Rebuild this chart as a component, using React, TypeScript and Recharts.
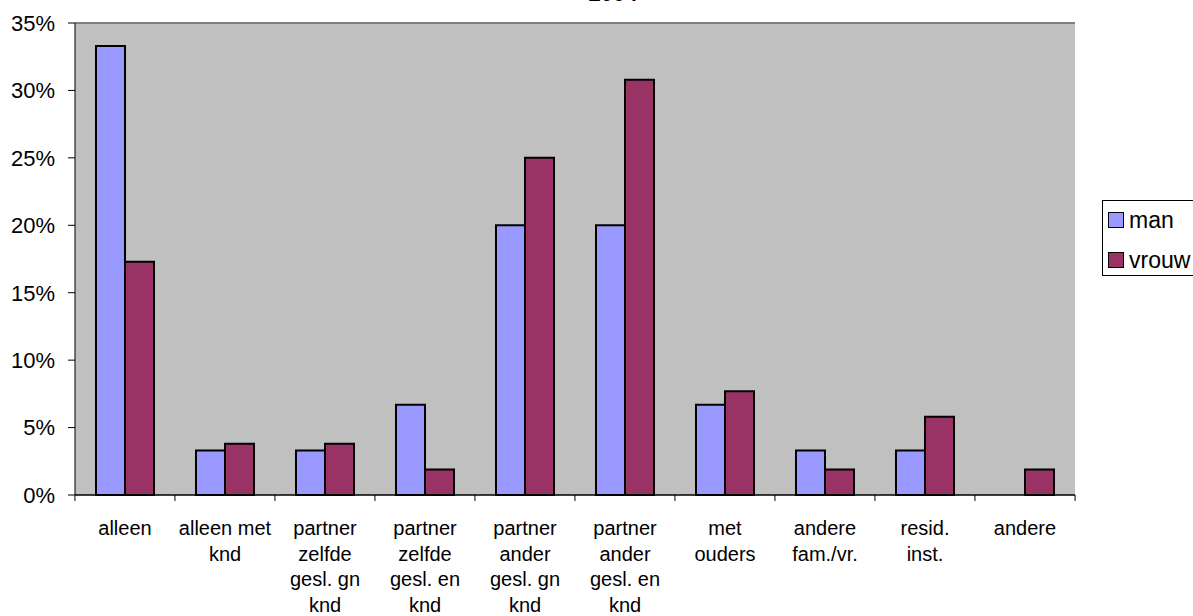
import React from "react";
import {
  BarChart,
  Bar,
  XAxis,
  YAxis,
  CartesianGrid,
  ReferenceLine,
} from "recharts";

const categories = [
  "alleen",
  "alleen met\nknd",
  "partner\nzelfde\ngesl. gn\nknd",
  "partner\nzelfde\ngesl. en\nknd",
  "partner\nander\ngesl. gn\nknd",
  "partner\nander\ngesl. en\nknd",
  "met\nouders",
  "andere\nfam./vr.",
  "resid.\ninst.",
  "andere",
];
const manValues = [33.3, 3.3, 3.3, 6.7, 20.0, 20.0, 6.7, 3.3, 3.3, 0];
const vrouwValues = [17.3, 3.8, 3.8, 1.9, 25.0, 30.8, 7.7, 1.9, 5.8, 1.9];
const yTicks = [0, 5, 10, 15, 20, 25, 30, 35];
const seriesNames = ["man", "vrouw"];
const seriesColors = ["#9999FF", "#993366"];
const title = "2004";

const data = categories.map((c, i) => ({
  cat: c,
  man: manValues[i],
  vrouw: vrouwValues[i],
}));

const FONT = "'Liberation Sans', Arial, sans-serif";

const XTick = (props: any) => {
  const { x, y, payload, index } = props;
  const band = 100.1;
  const lines = String(payload.value).split("\n");
  const left = x - band / 2;
  const axisY = y - 8;
  return (
    <g>
      <line x1={left} y1={axisY} x2={left} y2={axisY + 6} stroke="#000" strokeWidth={1} />
      {index === categories.length - 1 && (
        <line x1={x + band / 2} y1={axisY} x2={x + band / 2} y2={axisY + 6} stroke="#000" strokeWidth={1} />
      )}
      {lines.map((l, i) => (
        <text
          key={i}
          x={x}
          y={axisY + 40 + i * 25.7}
          textAnchor="middle"
          fontSize={20}
          fontFamily={FONT}
          fill="#000"
        >
          {l}
        </text>
      ))}
    </g>
  );
};

const LegendBox = () => (
  <div
    style={{
      position: "absolute",
      left: 1102,
      top: 200,
      width: 120,
      height: 76,
      border: "1px solid #000",
      background: "#fff",
      fontFamily: FONT,
      fontSize: 23,
      boxSizing: "border-box",
      paddingTop: 7,
      paddingLeft: 5,
    }}
  >
    {seriesNames.map((n, i) => (
      <div key={n} style={{ display: "flex", alignItems: "center", height: 24, marginBottom: i === 0 ? 16 : 0 }}>
        <span
          style={{
            display: "inline-block",
            width: 14,
            height: 14,
            background: seriesColors[i],
            border: "1.5px solid #000",
            marginRight: 5,
          }}
        />
        <span>{n}</span>
      </div>
    ))}
  </div>
);

export default function App() {
  return (
    <div style={{ position: "absolute", left: 0, top: 0, width: 1193, height: 616, overflow: "hidden", background: "#fff" }}>
      <div
        style={{
          position: "absolute",
          left: 563,
          width: 100,
          top: -19,
          textAlign: "center",
          fontFamily: FONT,
          fontWeight: "bold",
          fontSize: 22,
        }}
      >
        {title}
      </div>
      <BarChart
        width={1193}
        height={616}
        data={data}
        margin={{ top: 23, right: 118, left: 0, bottom: 0 }}
        barCategoryGap="21%"
        barGap={0}
      >
        <CartesianGrid
          vertical={false}
          fill="#C0C0C0"
          fillOpacity={1}
          stroke="#000"
          strokeWidth={1}
        />
        <XAxis
          dataKey="cat"
          height={121}
          interval={0}
          tickLine={false}
          axisLine={{ stroke: "#000", strokeWidth: 1 }}
          tick={<XTick />}
        />
        <YAxis
          yAxisId="left"
          width={75}
          domain={[0, 35]}
          ticks={yTicks}
          tickFormatter={(v: number) => `${v}%`}
          tickSize={7}
          tickMargin={13}
          tick={{ fontSize: 22, fill: "#000", fontFamily: FONT }}
          axisLine={{ stroke: "#000", strokeWidth: 1 }}
          tickLine={{ stroke: "#000" }}
        />
        <YAxis
          yAxisId="right"
          orientation="right"
          width={0}
          domain={[0, 35]}
          tick={false}
          tickLine={false}
          axisLine={{ stroke: "#808080", strokeWidth: 2 }}
        />
        <ReferenceLine yAxisId="left" y={35} stroke="#808080" strokeWidth={2} />
        <Bar
          yAxisId="left"
          dataKey="man"
          name={seriesNames[0]}
          fill={seriesColors[0]}
          stroke="#000"
          strokeWidth={2}
          isAnimationActive={false}
        />
        <Bar
          yAxisId="left"
          dataKey="vrouw"
          name={seriesNames[1]}
          fill={seriesColors[1]}
          stroke="#000"
          strokeWidth={2}
          isAnimationActive={false}
        />
      </BarChart>
      <LegendBox />
    </div>
  );
}
